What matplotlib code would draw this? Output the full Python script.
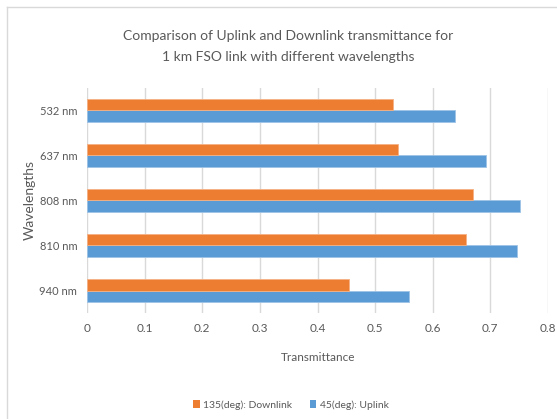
import matplotlib
matplotlib.use("Agg")
import matplotlib.pyplot as plt
from matplotlib.lines import Line2D
from matplotlib.patches import Patch
import numpy as np

# Chart data
wavelengths = ["532 nm", "637 nm", "808 nm", "810 nm", "940 nm"]
uplink_45 = [0.639, 0.692, 0.752, 0.746, 0.559]
downlink_135 = [0.531, 0.539, 0.669, 0.657, 0.455]
x_ticks = [0, 0.1, 0.2, 0.3, 0.4, 0.5, 0.6, 0.7, 0.8]
x_tick_labels = ["0", "0.1", "0.2", "0.3", "0.4", "0.5", "0.6", "0.7", "0.8"]

title = "Comparison of Uplink and Downlink transmittance for\n1 km FSO link with different wavelengths"
series_names = ["135(deg): Downlink", "45(deg): Uplink"]

ORANGE = "#ED7D31"
BLUE = "#5B9BD5"
TEXT = "#595959"
GRID = "#D9D9D9"

plt.rcParams["font.family"] = ["Lato", "DejaVu Sans"]

W, H = 557, 419
fig = plt.figure(figsize=(W / 100, H / 100), dpi=100)
fig.patch.set_facecolor("white")

# chart frame (visible on left and top)
fig.add_artist(Line2D([7 / W, 7 / W], [0, 1 - 7 / H], color=GRID, lw=1.0))
fig.add_artist(Line2D([7 / W, 1], [1 - 7 / H, 1 - 7 / H], color=GRID, lw=1.0))

left, right, top, bottom = 87, 548, 88, 313
ax = fig.add_axes([left / W, 1 - bottom / H, (right - left) / W, (bottom - top) / H])

y = np.arange(len(wavelengths))
h = 0.256
ax.barh(y + h / 2, uplink_45, height=h, color=BLUE, edgecolor="#9DC3E6", linewidth=0.6,
        label=series_names[1], zorder=3)
ax.barh(y - h / 2, downlink_135, height=h, color=ORANGE, edgecolor="#F4B183", linewidth=0.6,
        label=series_names[0], zorder=3)

ax.set_ylim(len(wavelengths) - 0.5, -0.5)
ax.set_xlim(0, 0.8)
ax.set_yticks(y)
ax.set_yticklabels(wavelengths)
ax.set_xticks(x_ticks)
ax.set_xticklabels(x_tick_labels)
ax.grid(axis="x", color=GRID, lw=1.0, zorder=0)
for s in ax.spines.values():
    s.set_visible(False)
ax.tick_params(axis="y", length=0, pad=7, labelsize=8, labelcolor=TEXT)
ax.tick_params(axis="x", length=0, pad=7, labelsize=8.5, labelcolor=TEXT)

fig.text(288 / W, 1 - 46 / H, title, ha="center", va="center", fontsize=10,
         color=TEXT, linespacing=1.9)
fig.text(318 / W, 1 - 357 / H, "Transmittance", ha="center", va="center",
         fontsize=8.5, color=TEXT)
fig.text(30 / W, 1 - 200 / H, "Wavelengths", ha="center", va="center",
         fontsize=10, color=TEXT, rotation=90)

handles = [Patch(facecolor=ORANGE), Patch(facecolor=BLUE)]
fig.legend(handles, series_names, loc="center", bbox_to_anchor=(291 / W, 1 - 405 / H),
           ncol=2, frameon=False, fontsize=7.5, labelcolor=TEXT, handlelength=0.6,
           handleheight=0.75, handletextpad=0.35, columnspacing=1.7)

fig.savefig("out.png", dpi=100, facecolor="white")
